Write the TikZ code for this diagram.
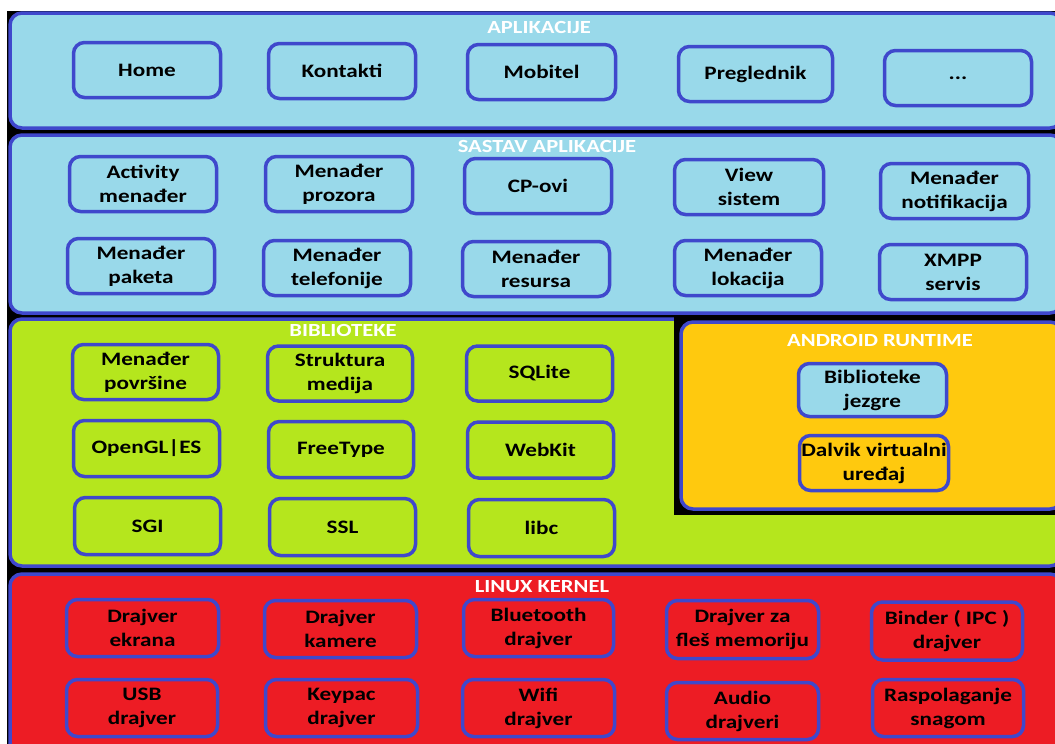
\documentclass[tikz,border=0pt]{standalone}
\usepackage{fontspec}
\setmainfont[FakeStretch=1.22]{Carlito}
\definecolor{lb}{HTML}{99D9EA}
\definecolor{bd}{HTML}{3F48CC}
\definecolor{gr}{HTML}{B5E61D}
\definecolor{og}{HTML}{FFC90E}
\definecolor{rd}{HTML}{ED1C24}
\begin{document}
\begin{tikzpicture}[x=1pt,y=-1pt,
  box/.style={draw=bd, line width=3.5pt, rounded corners=11pt, align=center,
    minimum width=147pt, minimum height=55pt, inner sep=0pt,
    font=\bfseries\fontsize{19}{24}\selectfont, text=black},
  panel/.style={draw=bd, line width=3.5pt, rounded corners=12pt},
  ttl/.style={font=\bfseries\fontsize{18.5}{20}\selectfont, text=white, inner sep=0pt}]
\useasboundingbox (0,0) rectangle (1055,744);
\fill[white] (0,0) rectangle (1055,744);
\fill[black] (7,11) rectangle (1055,744);
% panels
\draw[panel, fill=lb] (10,13) rectangle (1062,128);
\draw[panel, fill=lb] (10,135) rectangle (1062,313);
\draw[panel, fill=gr] (10,319) rectangle (1062,566);
\fill[black] (674,317) rectangle (1055,515);
\draw[panel, fill=og] (681,322) rectangle (1062,509);
\draw[panel, fill=rd] (10,574) rectangle (1062,760);
% titles
\node[ttl] (t1) at (539,27) {APLIKACIJE};
\node[ttl] (t2) at (547,146) {SASTAV APLIKACIJE};
\node[ttl] (t3) at (343,330) {BIBLIOTEKE};
\node[ttl] (t4) at (880,340) {ANDROID RUNTIME};
\node[ttl] (t5) at (542,587) {LINUX KERNEL};
% aplikacije
\node[box] (home) at (147,70) {Home};
\node[box] (kont) at (342,71) {Kontakti};
\node[box, minimum width=148pt] (mob) at (541.5,72) {Mobitel};
\node[box, minimum width=154pt] (pregl) at (755.5,74) {Preglednik};
\node[box] (dots) at (958,78) {...};
% sastav
\node[box] (act) at (143,184) {Activity\\menađer};
\node[box] (proz) at (339,184) {Menađer\\prozora};
\node[box] (cp) at (538,186) {CP-ovi};
\node[box, minimum width=149pt] (view) at (749,187) {View\\sistem};
\node[box, minimum width=148pt] (notif) at (954.5,191) {Menađer\\notifikacija};
\node[box] (pak) at (141,266) {Menađer\\paketa};
\node[box] (tel) at (337,268) {Menađer\\telefonije};
\node[box] (res) at (536,269) {Menađer\\resursa};
\node[box] (lok) at (748,268) {Menađer\\lokacija};
\node[box] (xmpp) at (953,272) {XMPP\\servis};
% biblioteke
\node[box, minimum width=146pt] (pov) at (145.5,372) {Menađer\\površine};
\node[box, minimum width=145pt] (str) at (340,373.5) {Struktura\\medija};
\node[box, minimum width=146pt] (sql) at (539.5,373.5) {SQLite};
\node[box, minimum width=146pt, minimum height=56pt] (ogl) at (146.5,448.5) {OpenGL|ES};
\node[box, minimum width=145pt, minimum height=56pt] (ft) at (341,449.5) {FreeType};
\node[box, minimum width=146pt, minimum height=56pt] (wk) at (540.5,450) {WebKit};
\node[box, minimum width=146pt, minimum height=57pt] (sgi) at (147.5,526) {SGI};
\node[box, minimum width=146pt, minimum height=57pt] (ssl) at (342.5,527) {SSL};
\node[box, minimum width=146pt, minimum height=57pt] (libc) at (541.5,528) {libc};
% runtime
\node[box, fill=lb, minimum width=148pt, minimum height=53pt] (jez) at (872.5,390) {Biblioteke\\jezgre};
\node[box, minimum width=149pt] (dal) at (874,463) {Dalvik virtualni\\uređaj};
% kernel
\node[box, minimum width=152pt, minimum height=57pt] (ekr) at (142.5,628) {Drajver\\ekrana};
\node[box, minimum width=152pt, minimum height=57pt] (kam) at (340.5,629) {Drajver\\kamere};
\node[box, minimum width=150pt, minimum height=57pt] (blue) at (538.5,628) {Bluetooth\\drajver};
\node[box, minimum width=152pt, minimum height=58pt] (fles) at (742.5,629.5) {Drajver za\\fleš memoriju};
\node[box, minimum width=151pt, minimum height=58pt] (bind) at (947,631) {Binder ( IPC )\\drajver};
\node[box, minimum width=151pt, minimum height=57pt] (usb) at (142,708) {USB\\drajver};
\node[box, minimum width=152pt, minimum height=57pt] (key) at (341.5,708) {Keypac\\drajver};
\node[box, minimum width=152pt, minimum height=57pt] (wifi) at (538.5,708) {Wifi\\drajver};
\node[box, minimum width=152pt, minimum height=57pt] (aud) at (742.5,711) {Audio\\drajveri};
\node[box, minimum width=151pt, minimum height=57pt] (rasp) at (948,708) {Raspolaganje\\snagom};
\end{tikzpicture}
\end{document}
